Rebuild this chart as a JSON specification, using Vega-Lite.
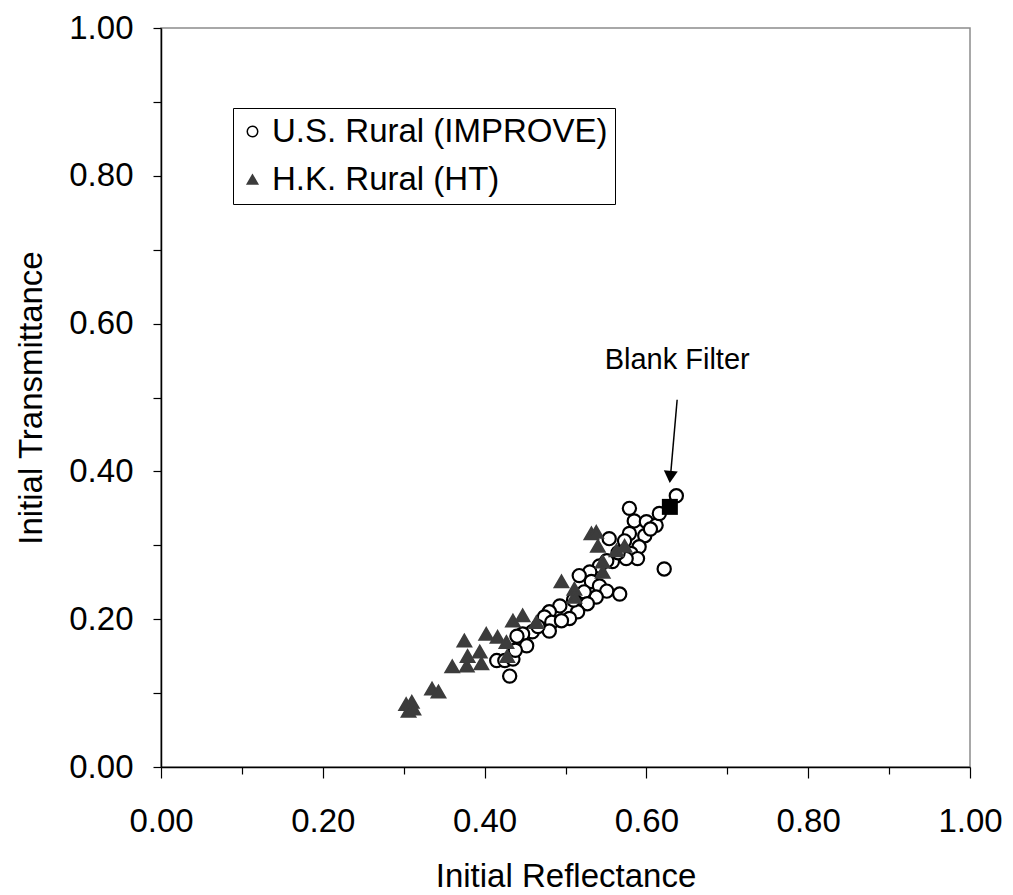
{
  "$schema": "https://vega.github.io/schema/vega-lite/v6.json",
  "width": 809,
  "height": 739,
  "autosize": {"type": "none"},
  "padding": {"left": 161, "top": 28, "right": 43, "bottom": 128},
  "background": "white",
  "config": {
    "font": "Liberation Sans",
    "view": {"stroke": "#8c8c8c", "strokeWidth": 1.5},
    "axis": {"grid": false, "domainColor": "black", "domainWidth": 1.5, "tickColor": "black", "tickWidth": 1.2, "labelColor": "black", "titleColor": "black", "labelFont": "Liberation Sans", "titleFont": "Liberation Sans", "labelFontSize": 33, "titleFontSize": 33, "titleFontWeight": "normal"}
  },
  "layer": [
    {
      "data": {"values": [
        {"series": "U.S. Rural (IMPROVE)", "x": 0.637, "y": 0.367},
        {"series": "U.S. Rural (IMPROVE)", "x": 0.579, "y": 0.350},
        {"series": "U.S. Rural (IMPROVE)", "x": 0.585, "y": 0.333},
        {"series": "U.S. Rural (IMPROVE)", "x": 0.600, "y": 0.332},
        {"series": "U.S. Rural (IMPROVE)", "x": 0.612, "y": 0.327},
        {"series": "U.S. Rural (IMPROVE)", "x": 0.616, "y": 0.343},
        {"series": "U.S. Rural (IMPROVE)", "x": 0.598, "y": 0.313},
        {"series": "U.S. Rural (IMPROVE)", "x": 0.579, "y": 0.316},
        {"series": "U.S. Rural (IMPROVE)", "x": 0.554, "y": 0.309},
        {"series": "U.S. Rural (IMPROVE)", "x": 0.573, "y": 0.306},
        {"series": "U.S. Rural (IMPROVE)", "x": 0.591, "y": 0.298},
        {"series": "U.S. Rural (IMPROVE)", "x": 0.581, "y": 0.289},
        {"series": "U.S. Rural (IMPROVE)", "x": 0.589, "y": 0.282},
        {"series": "U.S. Rural (IMPROVE)", "x": 0.575, "y": 0.282},
        {"series": "U.S. Rural (IMPROVE)", "x": 0.558, "y": 0.278},
        {"series": "U.S. Rural (IMPROVE)", "x": 0.551, "y": 0.279},
        {"series": "U.S. Rural (IMPROVE)", "x": 0.622, "y": 0.268},
        {"series": "U.S. Rural (IMPROVE)", "x": 0.542, "y": 0.272},
        {"series": "U.S. Rural (IMPROVE)", "x": 0.530, "y": 0.264},
        {"series": "U.S. Rural (IMPROVE)", "x": 0.517, "y": 0.259},
        {"series": "U.S. Rural (IMPROVE)", "x": 0.532, "y": 0.251},
        {"series": "U.S. Rural (IMPROVE)", "x": 0.542, "y": 0.245},
        {"series": "U.S. Rural (IMPROVE)", "x": 0.551, "y": 0.238},
        {"series": "U.S. Rural (IMPROVE)", "x": 0.567, "y": 0.234},
        {"series": "U.S. Rural (IMPROVE)", "x": 0.538, "y": 0.230},
        {"series": "U.S. Rural (IMPROVE)", "x": 0.523, "y": 0.237},
        {"series": "U.S. Rural (IMPROVE)", "x": 0.527, "y": 0.221},
        {"series": "U.S. Rural (IMPROVE)", "x": 0.493, "y": 0.218},
        {"series": "U.S. Rural (IMPROVE)", "x": 0.515, "y": 0.210},
        {"series": "U.S. Rural (IMPROVE)", "x": 0.505, "y": 0.201},
        {"series": "U.S. Rural (IMPROVE)", "x": 0.480, "y": 0.210},
        {"series": "U.S. Rural (IMPROVE)", "x": 0.474, "y": 0.203},
        {"series": "U.S. Rural (IMPROVE)", "x": 0.483, "y": 0.196},
        {"series": "U.S. Rural (IMPROVE)", "x": 0.495, "y": 0.198},
        {"series": "U.S. Rural (IMPROVE)", "x": 0.459, "y": 0.183},
        {"series": "U.S. Rural (IMPROVE)", "x": 0.447, "y": 0.180},
        {"series": "U.S. Rural (IMPROVE)", "x": 0.480, "y": 0.184},
        {"series": "U.S. Rural (IMPROVE)", "x": 0.452, "y": 0.164},
        {"series": "U.S. Rural (IMPROVE)", "x": 0.415, "y": 0.144},
        {"series": "U.S. Rural (IMPROVE)", "x": 0.425, "y": 0.144},
        {"series": "U.S. Rural (IMPROVE)", "x": 0.435, "y": 0.146},
        {"series": "U.S. Rural (IMPROVE)", "x": 0.431, "y": 0.123},
        {"series": "U.S. Rural (IMPROVE)", "x": 0.440, "y": 0.177},
        {"series": "U.S. Rural (IMPROVE)", "x": 0.565, "y": 0.290},
        {"series": "U.S. Rural (IMPROVE)", "x": 0.605, "y": 0.322},
        {"series": "U.S. Rural (IMPROVE)", "x": 0.510, "y": 0.226},
        {"series": "U.S. Rural (IMPROVE)", "x": 0.466, "y": 0.190},
        {"series": "U.S. Rural (IMPROVE)", "x": 0.438, "y": 0.158},
        {"series": "H.K. Rural (HT)", "x": 0.303, "y": 0.085},
        {"series": "H.K. Rural (HT)", "x": 0.310, "y": 0.088},
        {"series": "H.K. Rural (HT)", "x": 0.306, "y": 0.076},
        {"series": "H.K. Rural (HT)", "x": 0.312, "y": 0.079},
        {"series": "H.K. Rural (HT)", "x": 0.335, "y": 0.106},
        {"series": "H.K. Rural (HT)", "x": 0.343, "y": 0.102},
        {"series": "H.K. Rural (HT)", "x": 0.360, "y": 0.136},
        {"series": "H.K. Rural (HT)", "x": 0.378, "y": 0.137},
        {"series": "H.K. Rural (HT)", "x": 0.396, "y": 0.140},
        {"series": "H.K. Rural (HT)", "x": 0.379, "y": 0.150},
        {"series": "H.K. Rural (HT)", "x": 0.394, "y": 0.156},
        {"series": "H.K. Rural (HT)", "x": 0.375, "y": 0.171},
        {"series": "H.K. Rural (HT)", "x": 0.402, "y": 0.180},
        {"series": "H.K. Rural (HT)", "x": 0.416, "y": 0.176},
        {"series": "H.K. Rural (HT)", "x": 0.428, "y": 0.150},
        {"series": "H.K. Rural (HT)", "x": 0.427, "y": 0.169},
        {"series": "H.K. Rural (HT)", "x": 0.435, "y": 0.198},
        {"series": "H.K. Rural (HT)", "x": 0.447, "y": 0.205},
        {"series": "H.K. Rural (HT)", "x": 0.464, "y": 0.196},
        {"series": "H.K. Rural (HT)", "x": 0.495, "y": 0.251},
        {"series": "H.K. Rural (HT)", "x": 0.511, "y": 0.241},
        {"series": "H.K. Rural (HT)", "x": 0.511, "y": 0.230},
        {"series": "H.K. Rural (HT)", "x": 0.532, "y": 0.316},
        {"series": "H.K. Rural (HT)", "x": 0.538, "y": 0.318},
        {"series": "H.K. Rural (HT)", "x": 0.540, "y": 0.299},
        {"series": "H.K. Rural (HT)", "x": 0.546, "y": 0.278},
        {"series": "H.K. Rural (HT)", "x": 0.546, "y": 0.264},
        {"series": "H.K. Rural (HT)", "x": 0.563, "y": 0.293},
        {"series": "H.K. Rural (HT)", "x": 0.573, "y": 0.299}
      ]},
      "mark": {"type": "point", "filled": true, "size": 175, "strokeWidth": 2.2, "opacity": 1},
      "encoding": {
        "x": {"field": "x", "type": "quantitative", "scale": {"domain": [0, 1], "nice": false, "zero": false},
          "axis": {"values": [0, 0.1, 0.2, 0.3, 0.4, 0.5, 0.6, 0.7, 0.8, 0.9, 1.0], "labelExpr": "round(datum.value*10) % 2 == 0 ? format(datum.value, '.2f') : ''",
            "tickSize": {"condition": {"test": "round(datum.value*10) % 2 == 0", "value": 11}, "value": 7},
            "labelPadding": 27, "title": "Initial Reflectance", "titlePadding": 22, "labelFlush": false, "labelOverlap": false}},
        "y": {"field": "y", "type": "quantitative", "scale": {"domain": [0, 1], "nice": false, "zero": false},
          "axis": {"values": [0, 0.1, 0.2, 0.3, 0.4, 0.5, 0.6, 0.7, 0.8, 0.9, 1.0], "labelExpr": "round(datum.value*10) % 2 == 0 ? format(datum.value, '.2f') : ''",
            "tickSize": 8, "labelPadding": 20, "title": "Initial Transmittance", "titlePadding": 20, "labelFlush": false, "labelOverlap": false}},
        "shape": {"field": "series", "type": "nominal", "scale": {"domain": ["U.S. Rural (IMPROVE)", "H.K. Rural (HT)"], "range": ["circle", "triangle-up"]},
          "legend": {"title": null, "orient": "none", "legendX": 72, "legendY": 80, "strokeColor": "black", "fillColor": "white", "padding": 7, "rowPadding": 14, "symbolOffset": -4, "labelOffset": 3, "labelFontSize": 33, "labelFont": "Liberation Sans", "labelColor": "black", "symbolSize": 110, "symbolStrokeWidth": 1.5, "labelLimit": 600}},
        "fill": {"field": "series", "type": "nominal", "scale": {"domain": ["U.S. Rural (IMPROVE)", "H.K. Rural (HT)"], "range": ["white", "#3c3c3c"]},
          "legend": {"title": null, "orient": "none", "legendX": 72, "legendY": 80, "strokeColor": "black", "fillColor": "white", "padding": 7, "rowPadding": 14, "symbolOffset": -4, "labelOffset": 3, "labelFontSize": 33, "labelFont": "Liberation Sans", "labelColor": "black", "symbolSize": 110, "symbolStrokeWidth": 1.5, "labelLimit": 600}},
        "stroke": {"field": "series", "type": "nominal", "scale": {"domain": ["U.S. Rural (IMPROVE)", "H.K. Rural (HT)"], "range": ["black", "#3c3c3c"]},
          "legend": {"title": null, "orient": "none", "legendX": 72, "legendY": 80, "strokeColor": "black", "fillColor": "white", "padding": 7, "rowPadding": 14, "symbolOffset": -4, "labelOffset": 3, "labelFontSize": 33, "labelFont": "Liberation Sans", "labelColor": "black", "symbolSize": 110, "symbolStrokeWidth": 1.5, "labelLimit": 600}}
      }
    },
    {
      "data": {"values": [{"x": 0.629, "y": 0.352}]},
      "mark": {"type": "point", "shape": "square", "filled": true, "size": 256, "color": "black", "opacity": 1},
      "encoding": {"x": {"field": "x", "type": "quantitative"}, "y": {"field": "y", "type": "quantitative"}}
    },
    {
      "data": {"values": [{"x": 0.638, "y": 0.497, "x2": 0.6298, "y2": 0.394}]},
      "mark": {"type": "rule", "color": "black", "strokeWidth": 1.5},
      "encoding": {"x": {"field": "x", "type": "quantitative"}, "y": {"field": "y", "type": "quantitative"}, "x2": {"field": "x2"}, "y2": {"field": "y2"}}
    },
    {
      "data": {"values": [{"x": 0.6295, "y": 0.3924}]},
      "mark": {"type": "point", "shape": "triangle-down", "filled": true, "size": 196, "angle": 5, "color": "black", "opacity": 1},
      "encoding": {"x": {"field": "x", "type": "quantitative"}, "y": {"field": "y", "type": "quantitative"}}
    },
    {
      "data": {"values": [{"x": 0.638, "y": 0.551, "label": "Blank Filter"}]},
      "mark": {"type": "text", "font": "Liberation Sans", "fontSize": 29, "color": "black", "align": "center", "baseline": "middle"},
      "encoding": {"x": {"field": "x", "type": "quantitative"}, "y": {"field": "y", "type": "quantitative"}, "text": {"field": "label"}}
    }
  ]
}
